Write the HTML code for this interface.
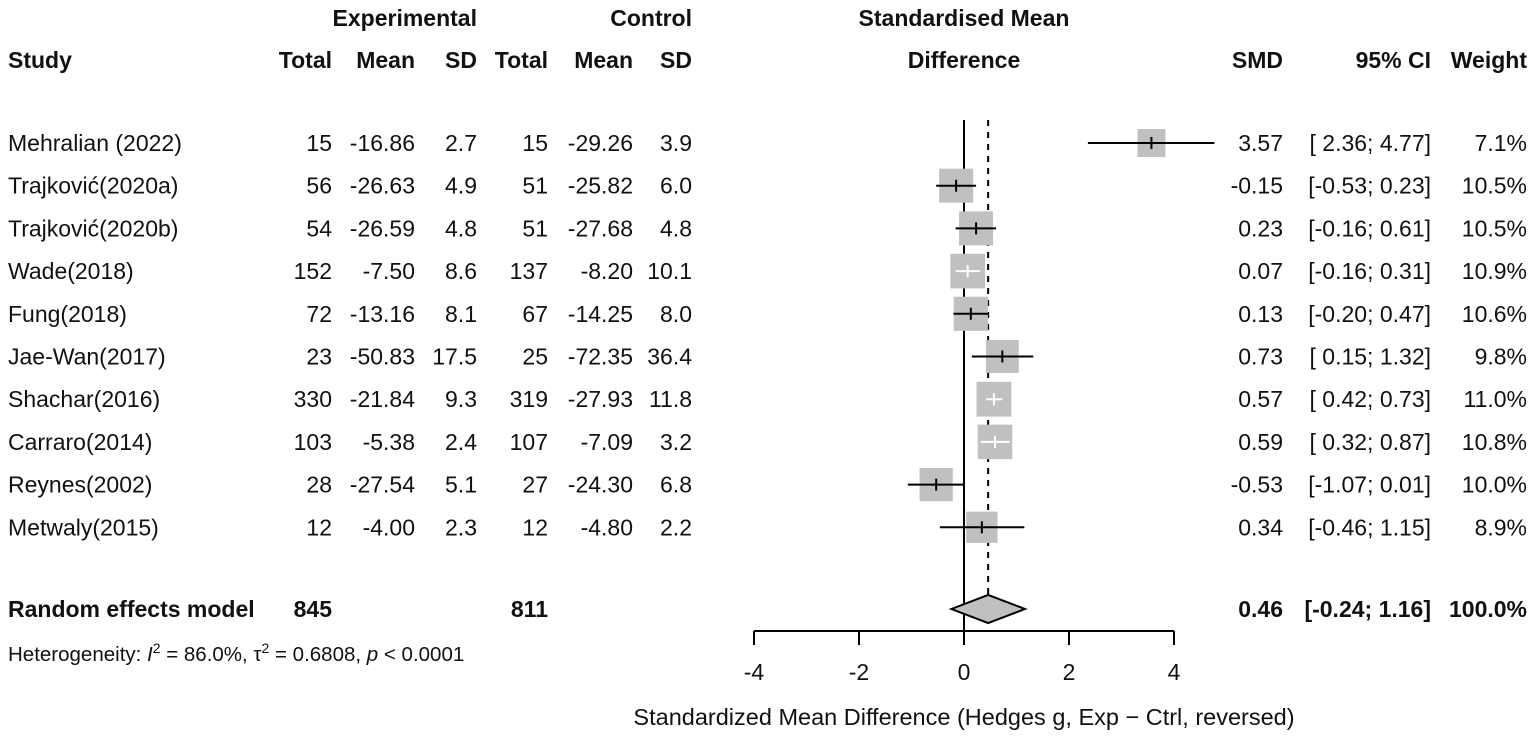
<!DOCTYPE html>
<html><head><meta charset="utf-8"><style>
body{margin:0;background:#fff;width:1535px;height:737px;overflow:hidden}
svg{font-family:"Liberation Sans",Arial,sans-serif;font-size:23px}
</style></head><body>
<svg id="c" width="1535" height="737"></svg>
<script>
const studies=["Mehralian (2022)","Trajković(2020a)","Trajković(2020b)","Wade(2018)","Fung(2018)","Jae-Wan(2017)","Shachar(2016)","Carraro(2014)","Reynes(2002)","Metwaly(2015)"];
const eTotal=[15,56,54,152,72,23,330,103,28,12];
const eMean=["-16.86","-26.63","-26.59","-7.50","-13.16","-50.83","-21.84","-5.38","-27.54","-4.00"];
const eSD=["2.7","4.9","4.8","8.6","8.1","17.5","9.3","2.4","5.1","2.3"];
const cTotal=[15,51,51,137,67,25,319,107,27,12];
const cMean=["-29.26","-25.82","-27.68","-8.20","-14.25","-72.35","-27.93","-7.09","-24.30","-4.80"];
const cSD=["3.9","6.0","4.8","10.1","8.0","36.4","11.8","3.2","6.8","2.2"];
const smd=[3.57,-0.15,0.23,0.07,0.13,0.73,0.57,0.59,-0.53,0.34];
const lo=[2.36,-0.53,-0.16,-0.16,-0.20,0.15,0.42,0.32,-1.07,-0.46];
const hi=[4.77,0.23,0.61,0.31,0.47,1.32,0.73,0.87,0.01,1.15];
const weight=[7.1,10.5,10.5,10.9,10.6,9.8,11.0,10.8,10.0,8.9];
const pooled=[0.46,-0.24,1.16];
const ticks=[-4,-2,0,2,4];
const svg=document.getElementById('c');
const NS="http://www.w3.org/2000/svg";
const X=v=>964+v*52.5;
const Y=i=>143+i*42.7;
function el(t,a,txt){const e=document.createElementNS(NS,t);for(const k in a)e.setAttribute(k,a[k]);if(txt!==undefined)e.textContent=txt;svg.appendChild(e);return e;}
function tx(x,y,s,anchor,bold,name){const e=el('text',{x:x,y:y,'text-anchor':anchor||'start','font-weight':bold?'bold':'normal',fill:'#111'},s);

return e;}
const fx=v=>(v<0?'':' ')+v.toFixed(2);
const C={t1:332,m1:415,s1:477,t2:548,m2:633,s2:692,smd:1283,ci:1431,w:1527};
tx(C.s1,26,"Experimental","end",1,"experimental-header");
tx(C.s2,26,"Control","end",1,"control-header");
tx(964,26,"Standardised Mean","middle",1,"smd-header");
tx(8,68,"Study","start",1,"study-header");
[[C.t1,"Total"],[C.m1,"Mean"],[C.s1,"SD"],[C.t2,"Total"],[C.m2,"Mean"],[C.s2,"SD"]].forEach(h=>tx(h[0],68,h[1],"end",1,"column-header"));
tx(964,68,"Difference","middle",1,"smd-header");
tx(C.smd,68,"SMD","end",1,"smd-col-header");
tx(C.ci,68,"95% CI","end",1,"ci-header");
tx(C.w,68,"Weight","end",1,"weight-header");
const ys=609, dh=14;
let l=el('line',{x1:X(0),x2:X(0),y1:120,y2:632,stroke:'#000','stroke-width':2});

l=el('line',{x1:X(pooled[0]),x2:X(pooled[0]),y1:120,y2:ys-dh,stroke:'#000','stroke-width':2,'stroke-dasharray':'6,6'});

studies.forEach((s,i)=>{const y=Y(i);
tx(8,y+8,s,"start",0,"study-name");
tx(C.t1,y+8,eTotal[i],"end",0,"exp-total");tx(C.m1,y+8,eMean[i],"end",0,"exp-mean");tx(C.s1,y+8,eSD[i],"end",0,"exp-sd");
tx(C.t2,y+8,cTotal[i],"end",0,"ctrl-total");tx(C.m2,y+8,cMean[i],"end",0,"ctrl-mean");tx(C.s2,y+8,cSD[i],"end",0,"ctrl-sd");
tx(C.smd,y+8,fx(smd[i]),"end",0,"smd-value");
tx(C.ci,y+8,"["+fx(lo[i])+"; "+hi[i].toFixed(2)+"]","end",0,"ci-value");
tx(C.w,y+8,weight[i].toFixed(1)+"%","end",0,"weight-value");
const sz=Math.sqrt(weight[i])*10.5;
const r=el('rect',{x:X(smd[i])-sz/2,y:y-sz/2,width:sz,height:sz,fill:'#c0c0c0'});

const inside=X(lo[i])>=X(smd[i])-sz/2&&X(hi[i])<=X(smd[i])+sz/2;
const col=inside?'#fff':'#000';
const w=el('line',{x1:X(lo[i]),x2:X(hi[i]),y1:y,y2:y,stroke:col,'stroke-width':2});

const t=el('line',{x1:X(smd[i]),x2:X(smd[i]),y1:y-6,y2:y+6,stroke:col,'stroke-width':2});

});
tx(8,ys+8,"Random effects model","start",1,"summary-label");
tx(C.t1,ys+8,"845","end",1,"exp-total-sum");tx(C.t2,ys+8,"811","end",1,"ctrl-total-sum");
tx(C.smd,ys+8,pooled[0].toFixed(2),"end",1,"pooled-smd");
tx(C.ci,ys+8,"["+pooled[1].toFixed(2)+"; "+pooled[2].toFixed(2)+"]","end",1,"pooled-ci");
tx(C.w,ys+8,"100.0%","end",1,"pooled-weight");
const d=el('polygon',{points:`${X(pooled[1])},${ys} ${X(pooled[0])},${ys-dh} ${X(pooled[2])},${ys} ${X(pooled[0])},${ys+dh}`,fill:'#c0c0c0',stroke:'#000','stroke-width':2});

const het=el('text',{x:8,y:661,'font-size':20.5,fill:'#111'});
het.innerHTML='Heterogeneity: <tspan font-style="italic">I</tspan><tspan dy="-8" font-size="14">2</tspan><tspan dy="8"> = 86.0%, τ</tspan><tspan dy="-8" font-size="14">2</tspan><tspan dy="8"> = 0.6808, </tspan><tspan font-style="italic">p</tspan> &lt; 0.0001';

const ax=el('line',{x1:X(ticks[0]),x2:X(ticks[ticks.length-1]),y1:631,y2:631,stroke:'#000','stroke-width':2});

ticks.forEach(v=>{const t=el('line',{x1:X(v),x2:X(v),y1:631,y2:645,stroke:'#000','stroke-width':2});

tx(X(v),680,v<0?"-"+Math.abs(v):String(v),"middle",0,"x-tick-label");});
const at=tx(964,725,"Standardized Mean Difference (Hedges g, Exp − Ctrl, reversed)","middle",0,"x-axis-title");
at.setAttribute('font-size','23.5');
</script>
</body></html>
